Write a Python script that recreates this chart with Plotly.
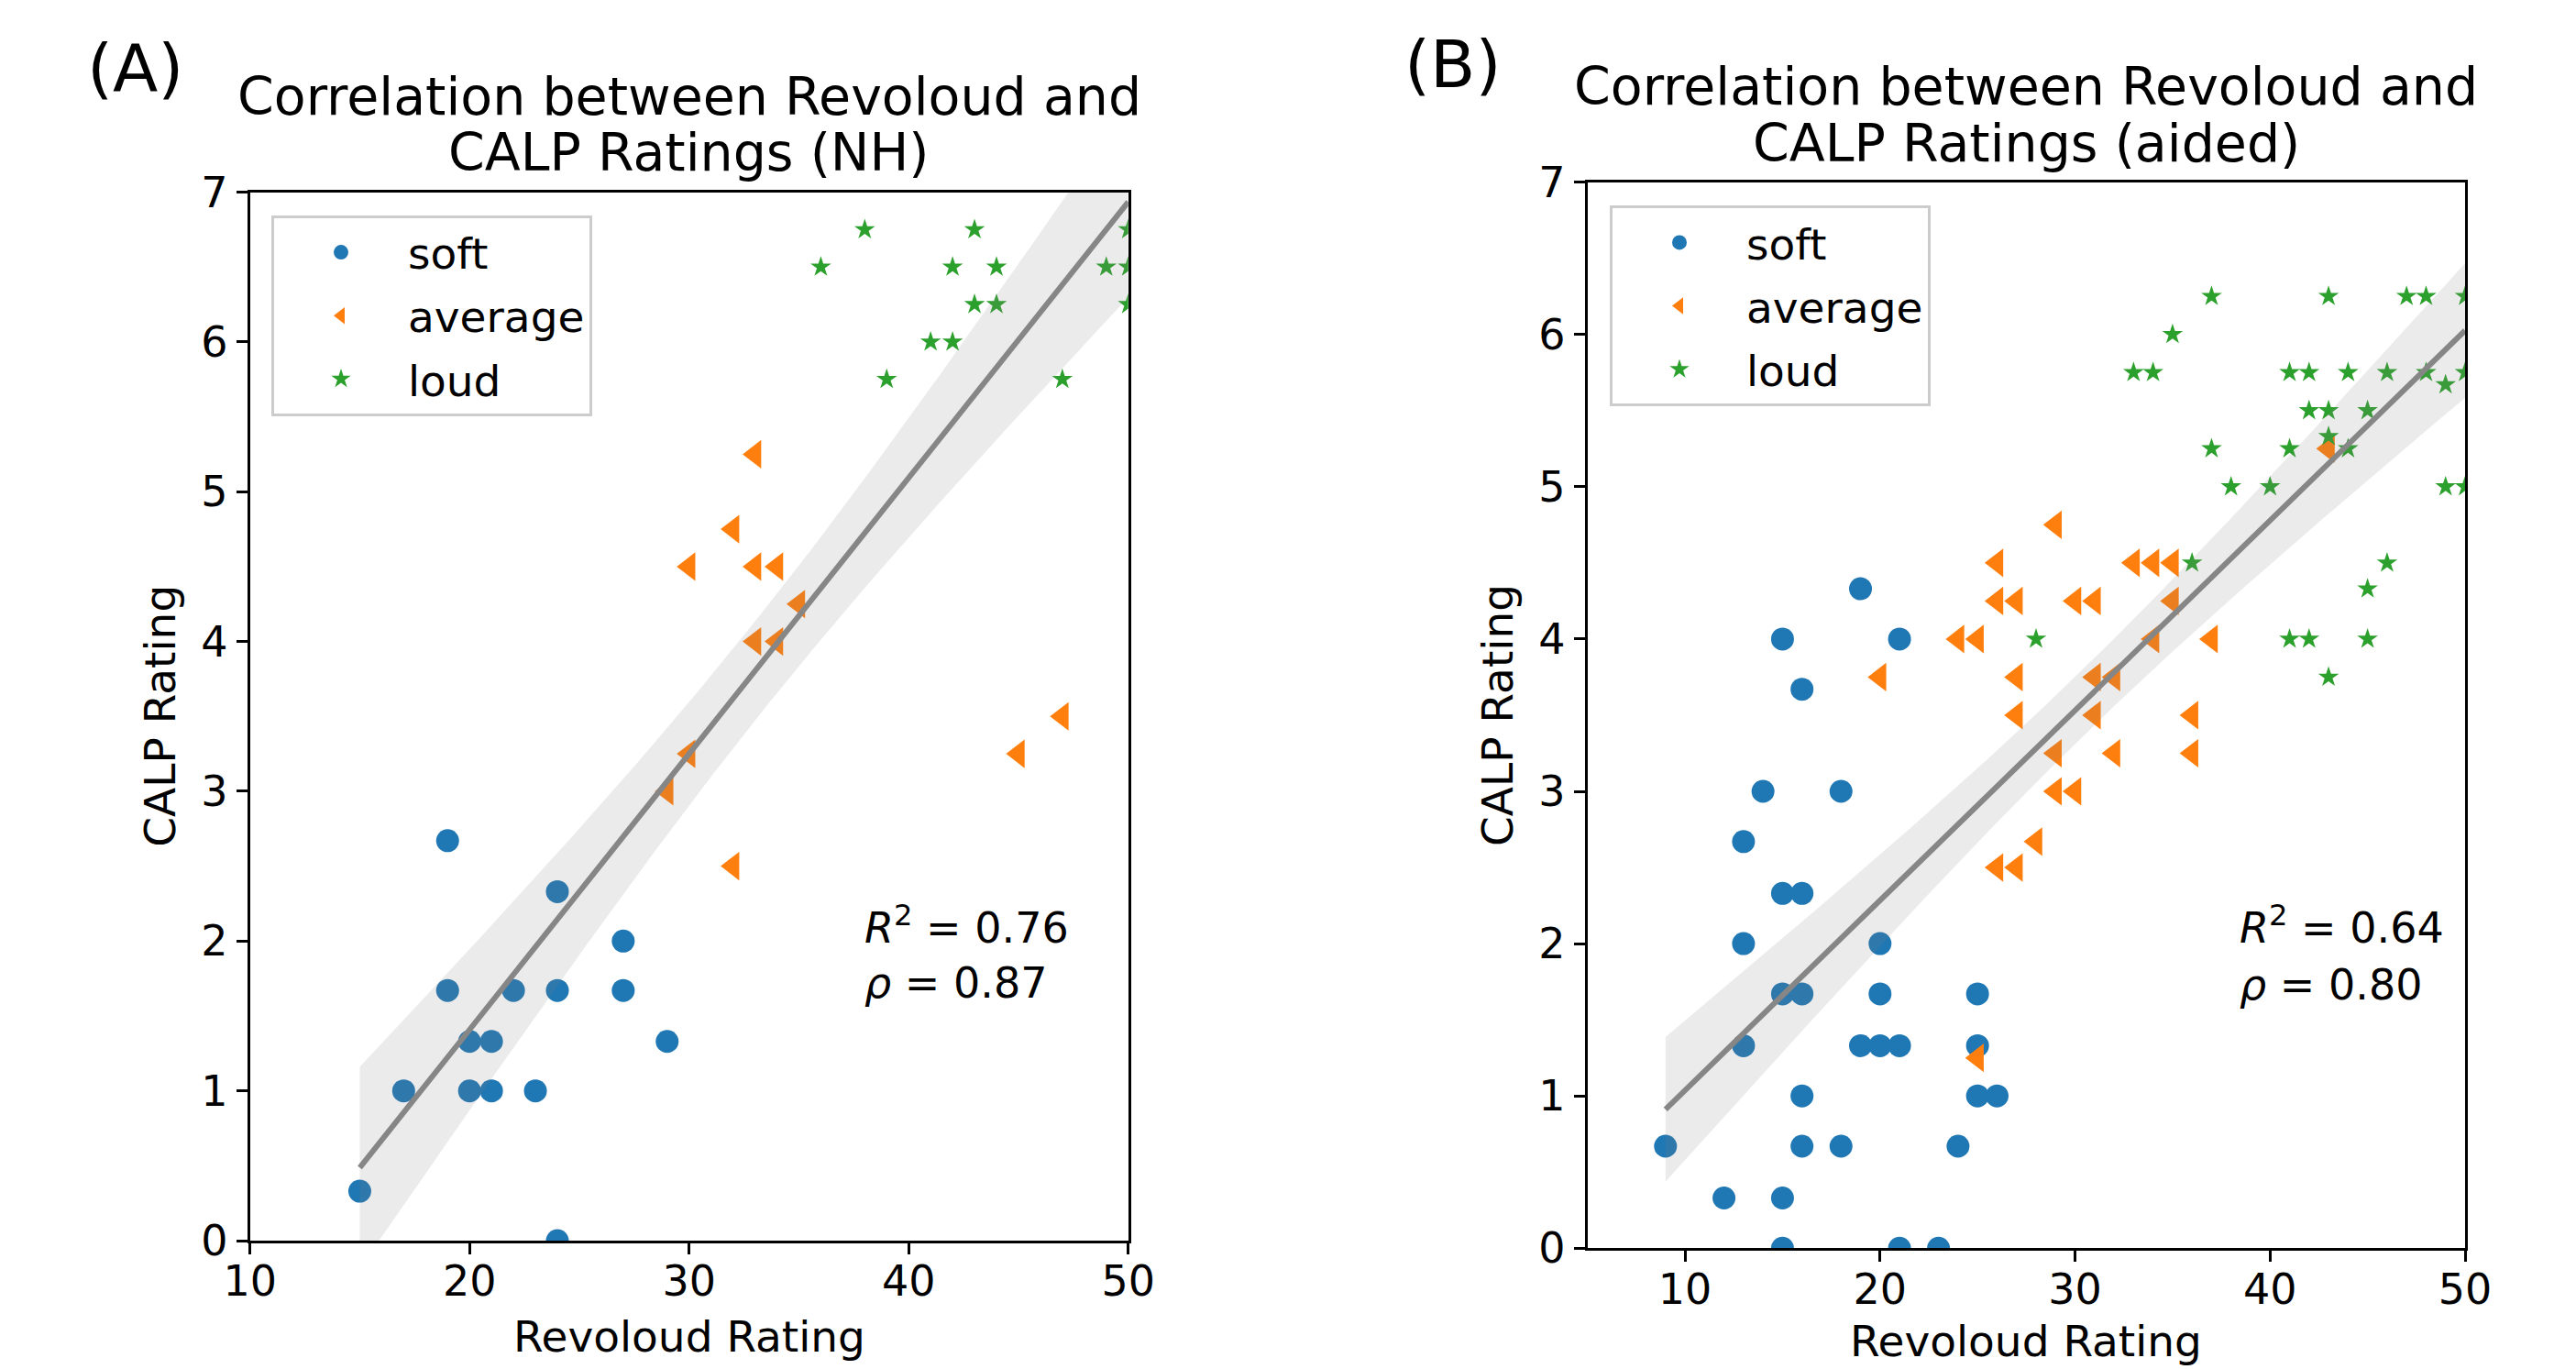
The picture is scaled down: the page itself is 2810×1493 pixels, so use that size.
import numpy as np
import plotly.graph_objects as go

# ---------------- Panel A (NH) ----------------
a_soft_x = [19, 24, 27, 19, 22, 24, 27, 20, 21, 29, 17, 20, 21, 23, 15, 24]
a_soft_y = [2.67, 2.33, 2.0, 1.67, 1.67, 1.67, 1.67, 1.33, 1.33, 1.33, 1.0, 1.0, 1.0, 1.0, 0.33, 0.0]
a_avg_x = [33, 32, 30, 33, 34, 35, 33, 34, 47, 45, 30, 29, 32]
a_avg_y = [5.25, 4.75, 4.5, 4.5, 4.5, 4.25, 4.0, 4.0, 3.5, 3.25, 3.25, 3.0, 2.5]
a_loud_x = [38, 43, 50, 36, 42, 44, 49, 50, 43, 44, 50, 41, 42, 39, 47]
a_loud_y = [6.75, 6.75, 6.75, 6.5, 6.5, 6.5, 6.5, 6.5, 6.25, 6.25, 6.25, 6.0, 6.0, 5.75, 5.75]

# ---------------- Panel B (aided) ----------------
b_soft_x = [14, 18, 13, 15, 16, 13, 20, 15, 16, 20, 25, 13, 19, 20, 21, 25, 16, 25, 26,
            9, 16, 18, 24, 12, 15, 15, 21, 23, 19, 15, 21, 16]
b_soft_y = [3, 3, 2.67, 2.33, 2.33, 2, 2, 1.67, 1.67, 1.67, 1.67, 1.33, 1.33, 1.33, 1.33, 1.33,
            1, 1, 1, 0.67, 0.67, 0.67, 0.67, 0.33, 0.33, 0, 0, 0, 4.33, 4, 4, 3.67]
b_avg_x = [29, 26, 33, 34, 35, 26, 27, 30, 31, 35, 24, 25, 34, 37, 20, 27, 31, 32, 27, 31,
           36, 29, 32, 36, 29, 30, 28, 26, 27, 43, 25]
b_avg_y = [4.75, 4.5, 4.5, 4.5, 4.5, 4.25, 4.25, 4.25, 4.25, 4.25, 4, 4, 4, 4, 3.75, 3.75,
           3.75, 3.75, 3.5, 3.5, 3.5, 3.25, 3.25, 3.25, 3, 3, 2.67, 2.5, 2.5, 5.25, 1.25]
b_loud_x = [37, 43, 47, 48, 50, 35, 33, 34, 41, 42, 44, 46, 48, 50, 49, 42, 43, 45, 43, 37,
            41, 44, 38, 40, 49, 50, 36, 46, 45, 28, 41, 42, 45, 43]
b_loud_y = [6.25, 6.25, 6.25, 6.25, 6.25, 6, 5.75, 5.75, 5.75, 5.75, 5.75, 5.75, 5.75, 5.75,
            5.67, 5.5, 5.5, 5.5, 5.33, 5.25, 5.25, 5.25, 5, 5, 5, 5, 4.5, 4.5, 4.33, 4, 4, 4, 4, 3.75]

categories = ["soft", "average", "loud"]
colors = {"soft": "#1f77b4", "average": "#ff7f0e", "loud": "#2ca02c"}
symbols = {"soft": "circle", "average": "triangle-left", "loud": "star"}
sizes = {"soft": 25, "average": 27, "loud": 17}

titles_a = ["Correlation between Revoloud and", "CALP Ratings (NH)"]
titles_b = ["Correlation between Revoloud and", "CALP Ratings (aided)"]
stats_a = ["<i>R</i><sup>2</sup> = 0.76", "<i>ρ</i> = 0.87"]
stats_b = ["<i>R</i><sup>2</sup> = 0.64", "<i>ρ</i> = 0.80"]
x_ticks = [10, 20, 30, 40, 50]
y_ticks = [0, 1, 2, 3, 4, 5, 6, 7]

FONT = "DejaVu Sans"
PAGE_OFF = 8            # default body margin of the html page
W, H = 2810 - PAGE_OFF, 1493 - PAGE_OFF


def fit_band(xs_list, ys_list):
    x = np.concatenate([np.asarray(v, float) for v in xs_list])
    y = np.concatenate([np.asarray(v, float) for v in ys_list])
    b, a = np.polyfit(x, y, 1)
    n = len(x)
    xm = x.mean()
    resid = y - (a + b * x)
    s = np.sqrt(np.sum(resid ** 2) / (n - 2))
    sxx = np.sum((x - xm) ** 2)
    xs = np.linspace(x.min(), x.max(), 120)
    yhat = a + b * xs
    se = s * np.sqrt(1.0 / n + (xs - xm) ** 2 / sxx)
    return xs, yhat, yhat - 1.99 * se, yhat + 1.99 * se


fig = go.Figure()


def add_panel(data, xa, ya, legend):
    for cat, (xv, yv) in zip(categories, data):
        fig.add_trace(go.Scatter(
            x=xv, y=yv, mode="markers", name=cat, xaxis=xa, yaxis=ya,
            legend=legend, legendgroup=legend + cat,
            marker=dict(color=colors[cat], symbol=symbols[cat], size=sizes[cat],
                        line=dict(width=0)),
        ))
    xs, yhat, lo, hi = fit_band([d[0] for d in data], [d[1] for d in data])
    fig.add_trace(go.Scatter(x=xs, y=lo, mode="lines", line=dict(width=0, color="rgba(0,0,0,0)"),
                             xaxis=xa, yaxis=ya, showlegend=False, hoverinfo="skip"))
    fig.add_trace(go.Scatter(x=xs, y=hi, mode="lines", line=dict(width=0, color="rgba(0,0,0,0)"),
                             fill="tonexty", fillcolor="rgba(128,128,128,0.16)",
                             xaxis=xa, yaxis=ya, showlegend=False, hoverinfo="skip"))
    fig.add_trace(go.Scatter(x=xs, y=yhat, mode="lines", line=dict(width=6, color="#868686"),
                             xaxis=xa, yaxis=ya, showlegend=False, hoverinfo="skip"))


add_panel([(a_soft_x, a_soft_y), (a_avg_x, a_avg_y), (a_loud_x, a_loud_y)], "x", "y", "legend")
add_panel([(b_soft_x, b_soft_y), (b_avg_x, b_avg_y), (b_loud_x, b_loud_y)], "x2", "y2", "legend2")

axis_common = dict(showline=True, linecolor="black", linewidth=3, mirror=True,
                   ticks="outside", ticklen=12, tickwidth=3, tickcolor="black",
                   showgrid=False, zeroline=False, automargin=False,
                   tickfont=dict(family=FONT, size=46, color="black"))


# target positions are given in page pixels (screenshot coordinates)
def px_x(p):
    return (p - PAGE_OFF) / W


def px_y(p):
    return (H - (p - PAGE_OFF)) / H


A_L, A_R, A_T, A_B = 272.7, 1230.7, 209.5, 1353.0
B_L, B_R, B_T, B_B = 1731.7, 2689.0, 198.6, 1361.3

legend_common = dict(xanchor="left", yanchor="top",
                     bgcolor="rgba(255,255,255,0.85)", bordercolor="#cccccc", borderwidth=3,
                     font=dict(family=FONT, size=47, color="black"),
                     itemwidth=136, traceorder="grouped", tracegroupgap=5)

fig.update_layout(
    width=W, height=H, autosize=False,
    margin=dict(l=0, r=0, t=0, b=0, pad=0, autoexpand=False),
    paper_bgcolor="white", plot_bgcolor="white",
    font=dict(family=FONT, color="black"),
    xaxis=dict(domain=[px_x(A_L), px_x(A_R)], range=[10, 50], tickvals=x_ticks, anchor="y",
               ticklabelstandoff=-10, **axis_common),
    yaxis=dict(domain=[px_y(A_B), px_y(A_T)], range=[0, 7], tickvals=y_ticks, anchor="x", **axis_common),
    xaxis2=dict(domain=[px_x(B_L), px_x(B_R)], range=[5, 50], tickvals=x_ticks, anchor="y2",
                ticklabelstandoff=-10, **axis_common),
    yaxis2=dict(domain=[px_y(B_B), px_y(B_T)], range=[0, 7], tickvals=y_ticks, anchor="x2", **axis_common),
    legend=dict(x=px_x(296), y=px_y(235), **legend_common),
    legend2=dict(x=px_x(1756), y=px_y(224.4), **legend_common),
    showlegend=True,
)

ann = []


def text(x, y, s, size, xanchor="center", yanchor="middle", angle=0):
    ann.append(dict(x=px_x(x), y=px_y(y), xref="paper", yref="paper", text=s, showarrow=False,
                    xanchor=xanchor, yanchor=yanchor, textangle=angle,
                    font=dict(family=FONT, size=size, color="black")))


# titles
text((A_L + A_R) / 2, 105.5, titles_a[0], 57)
text((A_L + A_R) / 2, 166.5, titles_a[1], 57)
text((B_L + B_R) / 2, 94.5, titles_b[0], 57)
text((B_L + B_R) / 2, 155.5, titles_b[1], 57)
# panel labels
text(147, 74, "(A)", 72)
text(1585, 70, "(B)", 72)
# axis titles
text((A_L + A_R) / 2, 1457, "Revoloud Rating", 47)
text((B_L + B_R) / 2, 1462, "Revoloud Rating", 47)
text(174.5, (A_T + A_B) / 2, "CALP Rating", 47, angle=-90)
text(1634, (B_T + B_B) / 2, "CALP Rating", 47, angle=-90)
# stats
text(941, 1009, stats_a[0], 46, xanchor="left")
text(941, 1072, stats_a[1], 46, xanchor="left")
text(2441, 1009, stats_b[0], 46, xanchor="left")
text(2441, 1074, stats_b[1], 46, xanchor="left")

fig.update_layout(annotations=ann)

fig.write_html("out.html", config={"displayModeBar": False})
